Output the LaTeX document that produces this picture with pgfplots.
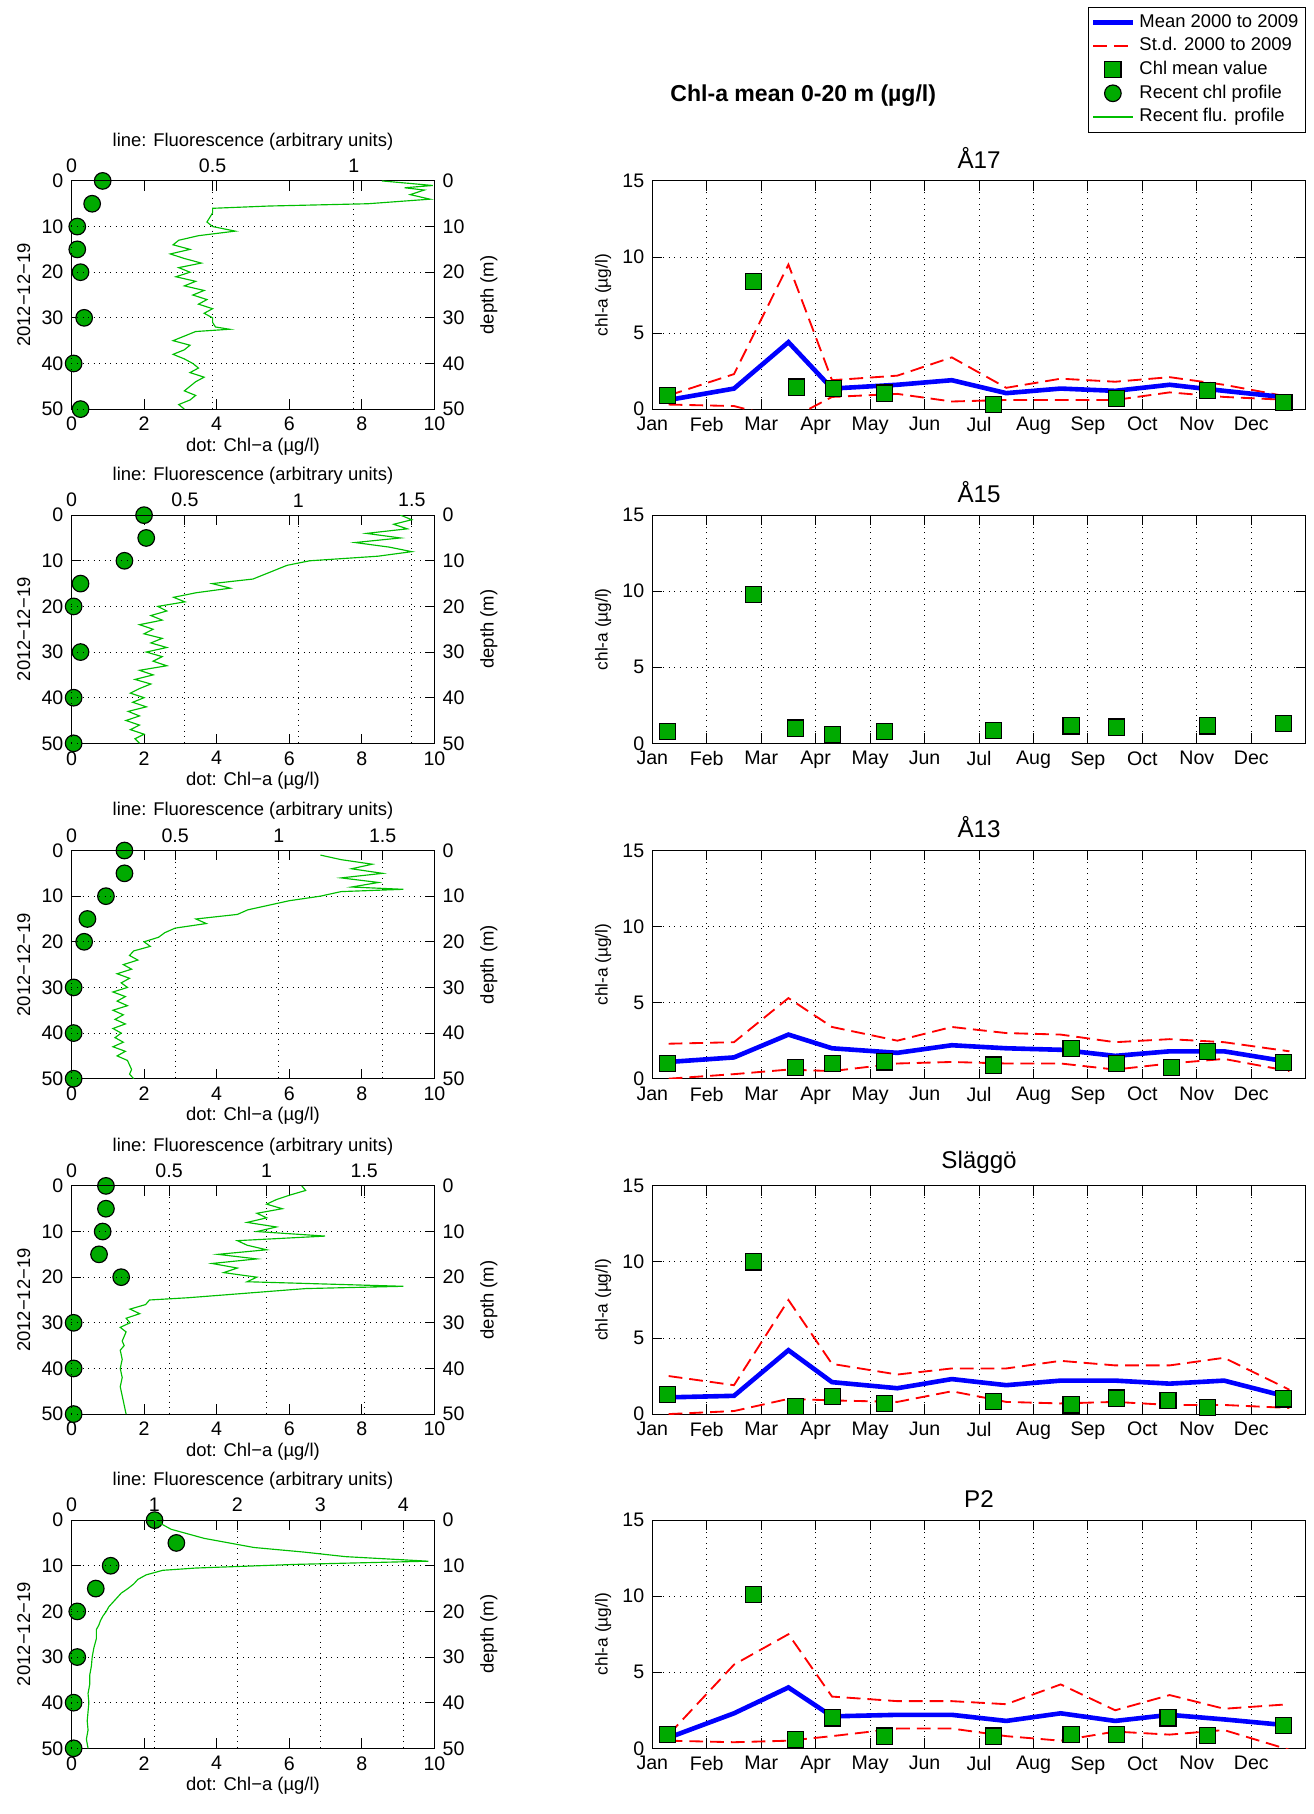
\documentclass[border=0pt]{standalone}
\usepackage{pgfplots}
\pgfplotsset{compat=1.18}
\usepackage{fontspec}
\setmainfont{Liberation Sans}
\definecolor{mgreen}{RGB}{0,170,0}
\definecolor{lgreen}{RGB}{0,190,0}
\pgfplotsset{
  every axis/.append style={font=\fontsize{8.5pt}{10pt}\selectfont, /pgf/number format/assume math mode=true, scale only axis, tick style={black,thin}},
  lgrid/.style={grid=major, grid style={dotted,black,thin}},
  chl/.style={at={(31pt,#1)}, anchor=south west, width=157.5pt, height=99pt,
    y dir=reverse, ymin=0, ymax=50, ytick={0,10,...,50}, xmin=0, xmax=10, xtick={0,2,...,10},
    xlabel={dot: Chl\textminus a (µg/l)}, ylabel={2012\textminus 12\textminus 19},
    xlabel style={font=\fontsize{8pt}{9pt}\selectfont, yshift=4pt}, ylabel style={font=\fontsize{8pt}{9pt}\selectfont, yshift=-2pt}},
  flu/.style={at={(31pt,#1)}, anchor=south west, width=157.5pt, height=99pt,
    y dir=reverse, ymin=0, ymax=50, ytick={0,10,...,50}, xmin=0, lgrid,
    axis x line*=top, axis y line*=right, ylabel={depth (m)},
    xlabel={line: Fluorescence (arbitrary units)},
    xlabel style={font=\fontsize{8pt}{9pt}\selectfont, yshift=-3pt}, ylabel style={font=\fontsize{8pt}{9pt}\selectfont}},
  mon/.style={at={(283pt,#1)}, anchor=south west, width=283.5pt, height=99pt,
    xmin=1, xmax=13, xtick={1,...,12}, xticklabels={Jan,Feb,Mar,Apr,May,Jun,Jul,Aug,Sep,Oct,Nov,Dec},
    ymin=0, ymax=15, ytick={0,5,10,15}, lgrid, ylabel={chl-a (µg/l)},
    ylabel style={font=\fontsize{7.5pt}{9pt}\selectfont, yshift=-2pt},
    title style={font=\fontsize{10.5pt}{12pt}\selectfont, yshift=-4pt}},
  dots/.style={only marks, mark=*, mark size=3.6pt, mark options={fill=mgreen, draw=black, line width=0.5pt}},
  squ/.style={only marks, mark=square*, mark size=3.5pt, mark options={fill=mgreen, draw=black, line width=0.5pt}},
  flul/.style={lgreen, line width=0.5pt, no marks},
  meanl/.style={blue, line width=2pt, no marks},
  stdl/.style={red, line width=0.8pt, dash pattern=on 6pt off 3pt, no marks},
}
\begin{document}
\begin{tikzpicture}
\useasboundingbox (0,0) rectangle (570pt,787pt);
\node[font=\bfseries\fontsize{10pt}{12pt}\selectfont] at (348.5pt,745.5pt) {Chl-a mean 0-20 m (µg/l)};
% ---------- Panel 1 ----------
\begin{axis}[chl=609.5pt]
\addplot[dots] coordinates {(0.86,0)(0.57,5)(0.16,10)(0.16,15)(0.25,20)(0.35,30)(0.06,40)(0.25,50)};
\end{axis}
\begin{axis}[flu=609.5pt, xmax=1.286, xtick={0,0.5,1}]
\addplot[flul] coordinates {(1.10,0)(1.28,1)(1.18,1.5)(1.25,2)(1.2,3)(1.27,4)(1.05,5)(0.7,5.5)(0.5,6)(0.5,7)(0.49,8)(0.48,9)(0.5,10)(0.58,11)(0.45,12)(0.38,13)(0.36,14)(0.42,15)(0.35,16)(0.4,17)(0.46,18)(0.38,19)(0.42,20)(0.37,21)(0.44,22)(0.4,23)(0.47,24)(0.43,25)(0.48,26)(0.45,27)(0.5,28)(0.47,29)(0.5,30)(0.5,31)(0.51,32)(0.56,32.5)(0.44,33)(0.4,34)(0.36,35)(0.42,36)(0.4,37)(0.36,38)(0.4,39)(0.43,40)(0.45,41)(0.42,42)(0.47,43)(0.44,44)(0.42,45)(0.40,46)(0.44,47)(0.42,48)(0.38,49)(0.40,50)};
\end{axis}
% ---------- Panel 2 ----------
\begin{axis}[chl=464.5pt]
\addplot[dots] coordinates {(2.0,0)(2.06,5)(1.46,10)(0.25,15)(0.06,20)(0.25,30)(0.06,40)(0.06,50)};
\end{axis}
\begin{axis}[flu=464.5pt, xmax=1.6, xtick={0,0.5,1,1.5}]
\addplot[flul] coordinates {(1.45,0)(1.5,1)(1.42,2)(1.48,3)(1.3,4)(1.45,5)(1.25,6)(1.4,7)(1.5,8)(1.35,9)(1.05,10)(0.95,11)(0.9,12)(0.85,13)(0.8,14)(0.62,15)(0.7,16)(0.55,17)(0.45,18)(0.5,19)(0.38,20)(0.42,21)(0.35,22)(0.4,23)(0.3,24)(0.36,25)(0.32,26)(0.4,27)(0.35,28)(0.42,29)(0.33,30)(0.4,31)(0.36,32)(0.42,33)(0.3,34)(0.36,35)(0.28,36)(0.35,37)(0.3,38)(0.26,39)(0.32,40)(0.27,41)(0.33,42)(0.25,43)(0.3,44)(0.24,45)(0.3,46)(0.26,47)(0.32,48)(0.28,49)(0.3,50)};
\end{axis}
% ---------- Panel 3 ----------
\begin{axis}[chl=319pt]
\addplot[dots] coordinates {(1.46,0)(1.46,5)(0.95,10)(0.44,15)(0.35,20)(0.06,30)(0.06,40)(0.06,50)};
\end{axis}
\begin{axis}[flu=319pt, xmax=1.75, xtick={0,0.5,1,1.5}]
\addplot[flul] coordinates {(1.2,1)(1.3,2)(1.45,3)(1.35,4)(1.5,5)(1.3,6)(1.48,7)(1.35,8)(1.6,8.5)(1.3,9)(1.2,10)(1.05,11)(0.95,12)(0.85,13)(0.8,14)(0.6,15)(0.65,16)(0.5,17)(0.45,18)(0.42,19)(0.35,20)(0.38,21)(0.3,22)(0.28,23)(0.32,24)(0.25,25)(0.29,26)(0.22,27)(0.28,28)(0.24,29)(0.27,30)(0.2,31)(0.26,32)(0.22,33)(0.27,34)(0.2,35)(0.25,36)(0.21,37)(0.26,38)(0.2,39)(0.24,40)(0.21,41)(0.25,42)(0.2,43)(0.26,44)(0.22,45)(0.27,46)(0.28,47)(0.29,48)(0.28,49)(0.3,50)};
\end{axis}
% ---------- Panel 4 ----------
\begin{axis}[chl=173.5pt]
\addplot[dots] coordinates {(0.95,0)(0.95,5)(0.86,10)(0.76,15)(1.37,20)(0.06,30)(0.06,40)(0.06,50)};
\end{axis}
\begin{axis}[flu=173.5pt, xmax=1.86, xtick={0,0.5,1,1.5}]
\addplot[flul] coordinates {(1.18,0)(1.2,1)(1.12,2)(1.05,3)(1.0,4)(1.08,5)(0.95,6)(1.0,7)(0.9,8)(1.05,9)(0.95,10)(1.3,11)(0.85,12)(0.9,13)(1.0,14)(0.75,15)(0.95,16)(0.72,17)(0.85,18)(0.78,19)(0.95,20)(0.9,21)(1.7,22)(1.2,22.5)(0.9,23.5)(0.6,24.5)(0.4,25)(0.38,26)(0.3,27)(0.35,28)(0.28,29)(0.3,30)(0.25,31)(0.28,32)(0.27,33)(0.26,34)(0.27,35)(0.25,36)(0.26,38)(0.25,40)(0.26,42)(0.25,44)(0.26,46)(0.27,48)(0.28,50)};
\end{axis}
% ---------- Panel 5 ----------
\begin{axis}[chl=28.5pt]
\addplot[dots] coordinates {(2.29,0)(2.89,5)(1.08,10)(0.67,15)(0.16,20)(0.16,30)(0.06,40)(0.06,50)};
\end{axis}
\begin{axis}[flu=28.5pt, xmax=4.375, xtick={0,1,2,3,4}]
\addplot[flul] coordinates {(1.0,0)(1.1,1)(1.2,2)(1.4,3)(1.6,4)(1.9,5)(2.2,6)(2.8,7)(3.3,8)(4.3,9)(2.7,9.7)(1.5,10.5)(1.1,11)(0.9,12)(0.8,13)(0.75,14)(0.68,15)(0.6,16)(0.55,17)(0.5,18)(0.45,19)(0.42,20)(0.38,21)(0.35,22)(0.33,23)(0.3,24)(0.3,26)(0.27,28)(0.25,30)(0.24,32)(0.22,34)(0.22,36)(0.2,38)(0.21,40)(0.2,42)(0.19,44)(0.2,46)(0.18,48)(0.2,50)};
\end{axis}
% ---------- Right: A17 ----------
\begin{axis}[mon=609.5pt, title={Å17}, legend style={at={(1,1.763)}, anchor=north east, font=\fontsize{8pt}{9pt}\selectfont, draw=black, inner sep=1pt, row sep=-1pt}, legend cell align=left]
\addlegendimage{meanl}\addlegendentry{Mean 2000 to 2009}
\addlegendimage{stdl}\addlegendentry{St.d. 2000 to 2009}
\addlegendimage{squ}\addlegendentry{Chl mean value}
\addlegendimage{dots}\addlegendentry{Recent chl profile}
\addlegendimage{flul}\addlegendentry{Recent flu. profile}
\addplot[stdl, forget plot] coordinates {(1.3,0.9)(2.5,2.3)(3.5,9.5)(4.3,1.9)(5.5,2.2)(6.5,3.4)(7.5,1.4)(8.5,2.0)(9.5,1.8)(10.5,2.1)(11.5,1.6)(12.7,0.8)};
\addplot[stdl, forget plot] coordinates {(1.3,0.3)(2.5,0.2)(3.5,-0.7)(4.3,0.8)(5.5,1.0)(6.5,0.5)(7.5,0.6)(8.5,0.6)(9.5,0.6)(10.5,1.1)(11.5,0.8)(12.7,0.6)};
\addplot[meanl, forget plot] coordinates {(1.3,0.6)(2.5,1.35)(3.5,4.4)(4.3,1.35)(5.5,1.6)(6.5,1.9)(7.5,1.05)(8.5,1.35)(9.5,1.2)(10.5,1.6)(11.5,1.2)(12.7,0.75)};
\addplot[squ, forget plot] coordinates {(1.28,0.9)(2.86,8.4)(3.65,1.45)(4.33,1.35)(5.26,1.05)(7.27,0.3)(9.52,0.7)(11.2,1.2)(12.6,0.45)};
\end{axis}
% ---------- A15 ----------
\begin{axis}[mon=464.5pt, title={Å15}]
\addplot[squ] coordinates {(1.28,0.76)(2.86,9.8)(3.63,1.0)(4.31,0.6)(5.26,0.76)(7.27,0.84)(8.69,1.14)(9.52,1.07)(11.19,1.14)(12.59,1.3)};
\end{axis}
% ---------- A13 ----------
\begin{axis}[mon=319pt, title={Å13}]
\addplot[stdl] coordinates {(1.3,2.3)(2.5,2.4)(3.5,5.3)(4.3,3.4)(5.5,2.5)(6.5,3.4)(7.5,3.0)(8.5,2.9)(9.5,2.4)(10.5,2.6)(11.5,2.4)(12.7,1.8)};
\addplot[stdl] coordinates {(1.3,0.0)(2.5,0.3)(3.5,0.6)(4.3,0.5)(5.5,1.0)(6.5,1.1)(7.5,1.0)(8.5,1.0)(9.5,0.6)(10.5,1.0)(11.5,1.3)(12.7,0.5)};
\addplot[meanl] coordinates {(1.3,1.1)(2.5,1.4)(3.5,2.9)(4.3,2.0)(5.5,1.7)(6.5,2.2)(7.5,2.0)(8.5,1.9)(9.5,1.5)(10.5,1.8)(11.5,1.8)(12.7,1.1)};
\addplot[squ] coordinates {(1.28,1.0)(3.63,0.75)(4.31,1.0)(5.26,1.1)(7.27,0.9)(8.69,2.0)(9.52,1.0)(10.53,0.75)(11.19,1.8)(12.59,1.05)};
\end{axis}
% ---------- Slaggo ----------
\begin{axis}[mon=173.5pt, title={Släggö}]
\addplot[stdl] coordinates {(1.3,2.5)(2.5,1.9)(3.5,7.5)(4.3,3.3)(5.5,2.6)(6.5,3.0)(7.5,3.0)(8.5,3.5)(9.5,3.2)(10.5,3.2)(11.5,3.7)(12.7,1.6)};
\addplot[stdl] coordinates {(1.3,0)(2.5,0.2)(3.5,1.0)(4.3,0.9)(5.5,0.8)(6.5,1.5)(7.5,0.8)(8.5,0.7)(9.5,0.8)(10.5,0.6)(11.5,0.6)(12.7,0.4)};
\addplot[meanl] coordinates {(1.3,1.1)(2.5,1.2)(3.5,4.2)(4.3,2.1)(5.5,1.7)(6.5,2.3)(7.5,1.9)(8.5,2.2)(9.5,2.2)(10.5,2.0)(11.5,2.2)(12.7,1.1)};
\addplot[squ] coordinates {(1.28,1.3)(2.86,10.0)(3.63,0.5)(4.31,1.15)(5.26,0.7)(7.27,0.85)(8.69,0.6)(9.52,1.05)(10.47,0.9)(11.19,0.45)(12.59,1.0)};
\end{axis}
% ---------- P2 ----------
\begin{axis}[mon=28.5pt, title={P2}]
\addplot[stdl] coordinates {(1.3,0.9)(2.5,5.5)(3.5,7.5)(4.3,3.4)(5.5,3.1)(6.5,3.1)(7.5,2.9)(8.5,4.2)(9.5,2.5)(10.5,3.5)(11.5,2.6)(12.7,2.9)};
\addplot[stdl] coordinates {(1.3,0.5)(2.5,0.4)(3.5,0.5)(4.3,0.8)(5.5,1.3)(6.5,1.3)(7.5,0.8)(8.5,0.5)(9.5,1.1)(10.5,0.9)(11.5,1.2)(12.7,-0.1)};
\addplot[meanl] coordinates {(1.3,0.7)(2.5,2.3)(3.5,4.0)(4.3,2.1)(5.5,2.2)(6.5,2.2)(7.5,1.8)(8.5,2.3)(9.5,1.8)(10.5,2.2)(11.5,1.9)(12.7,1.5)};
\addplot[squ] coordinates {(1.28,0.9)(2.86,10.1)(3.63,0.6)(4.31,2.0)(5.26,0.8)(7.27,0.8)(8.69,0.9)(9.52,0.9)(10.47,2.0)(11.19,0.85)(12.59,1.5)};
\end{axis}
\end{tikzpicture}
\end{document}
